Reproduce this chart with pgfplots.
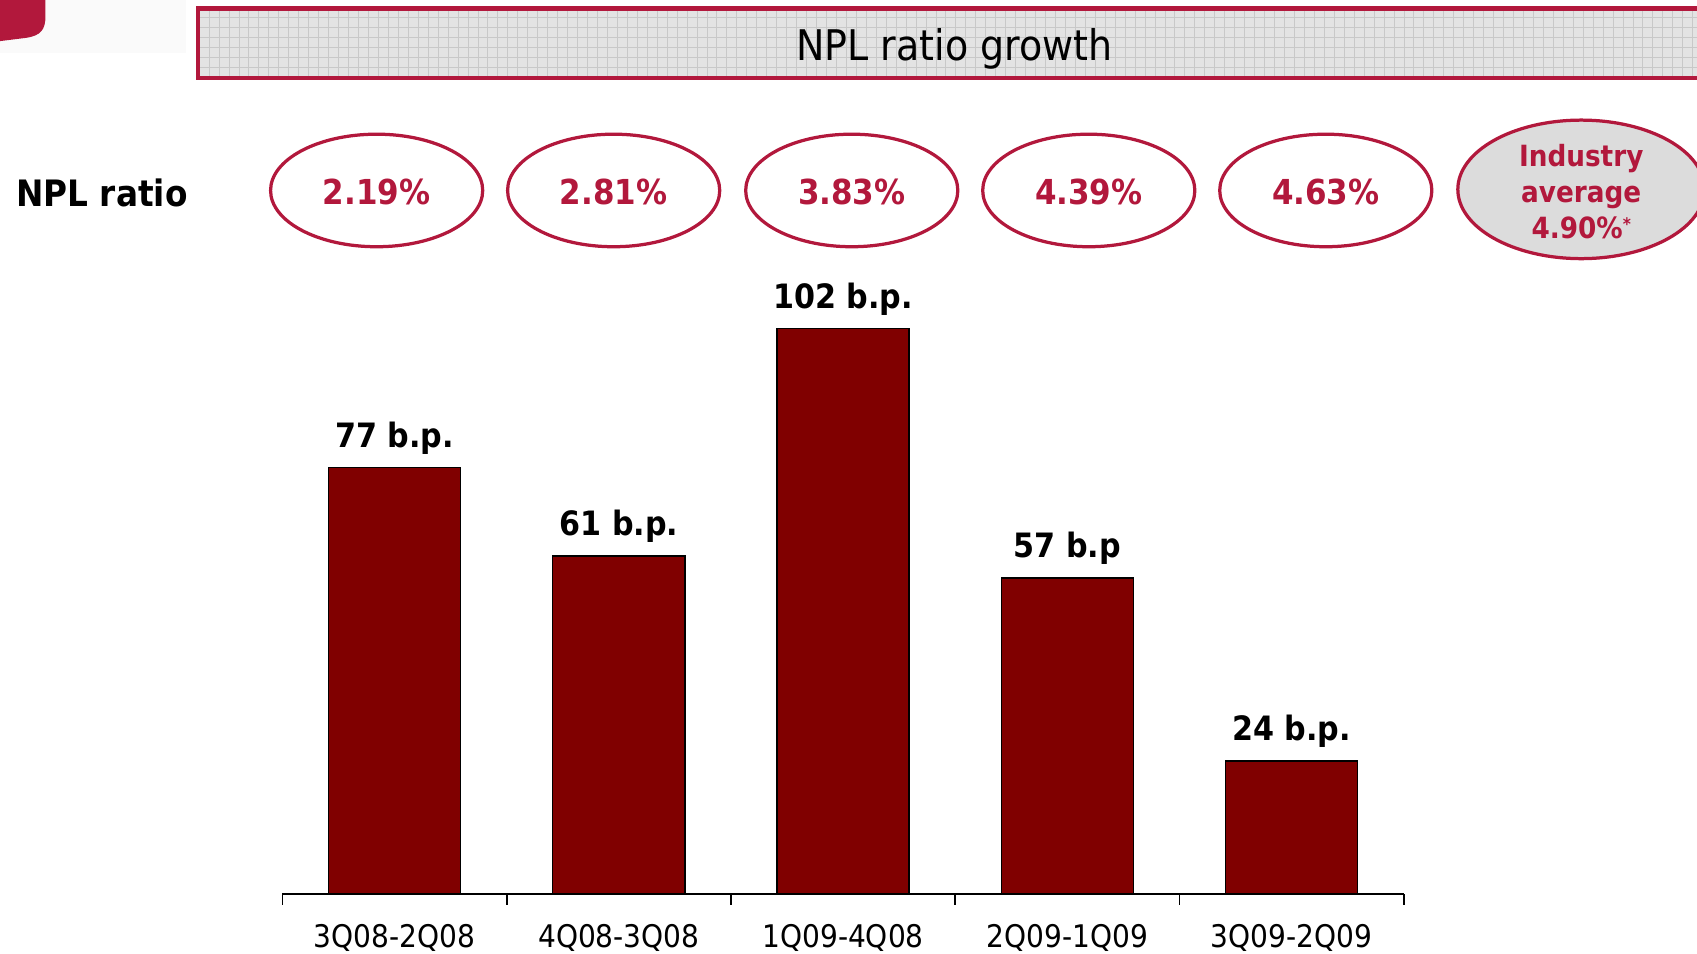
\documentclass[border=0pt]{standalone}
\usepackage{fontspec}
\setmainfont[FakeStretch=0.9]{DejaVu Sans}
\usepackage{pgfplots}
\pgfplotsset{compat=1.18}
\definecolor{nplred}{RGB}{178,24,60}
\definecolor{barred}{RGB}{128,0,0}
\definecolor{bannergray}{RGB}{227,227,227}
\definecolor{gridgray}{RGB}{200,200,200}
\definecolor{ovalgray}{RGB}{220,220,220}

\begin{document}
\begin{tikzpicture}
\useasboundingbox (0,0) rectangle (784pt,440.5pt);
\clip (0,0) rectangle (784pt,440.5pt);

\begin{scope}[x=0.5pt,y=0.5pt]
  % corner decoration
  \fill[black!2] (0,832) rectangle (172,881);
  \fill[nplred] (0,881) -- (42,881) -- (42,866) .. controls (42,854) and (38,848) .. (24,846) -- (0,843) -- cycle;

  % title banner
  \begin{scope}
    \clip (183,809) rectangle (1600,873);
    \fill[bannergray] (183,809) rectangle (1600,873);
    \draw[gridgray, line width=0.4pt, step=9.2] (183,809) grid (1600,873);
  \end{scope}
  \draw[nplred, line width=2pt] (1600,873) -- (183,873) -- (183,809) -- (1600,809);
  \node[font=\fontsize{19.5}{23}\selectfont] at (882,836) {NPL ratio growth};

  % NPL ratio row
  \node[anchor=west, font=\fontsize{16.8}{20}\selectfont\bfseries] at (8,703) {NPL ratio};
  \foreach \cx/\val in {348/2.19\%, 567/2.81\%, 787/3.83\%, 1006/4.39\%, 1225/4.63\%} {
    \draw[nplred, line width=1.5pt] (\cx,705) ellipse [x radius=98, y radius=52];
    \node[text=nplred, font=\fontsize{15.9}{19}\selectfont\bfseries] at (\cx,704) {\val};
  }
  \draw[nplred, line width=1.5pt, fill=ovalgray] (1461,706) ellipse [x radius=114, y radius=64];
  \node[text=nplred, font=\fontsize{13.5}{16.5}\selectfont\bfseries, align=center] at (1461,704)
    {Industry\\average\\4.90\%\raisebox{0.5ex}{\fontsize{8}{8}\selectfont*}};
\end{scope}

\begin{axis}[
  at={(130.5pt,27.5pt)}, anchor=south west,
  scale only axis, width=518pt, height=307.2pt,
  xmin=0.5, xmax=5.5, ymin=0, ymax=120,
  axis x line=bottom, axis y line=none,
  axis line style={black, line width=0.8pt, -},
  xtick={1,2,3,4,5},
  xticklabels={3Q08-2Q08, 4Q08-3Q08, 1Q09-4Q08, 2Q09-1Q09, 3Q09-2Q09},
  minor xtick={0.5,1.5,2.5,3.5,4.5,5.5},
  major tick length=0pt, minor tick length=5pt, tick align=outside,
  minor tick style={black, line width=0.8pt},
  xticklabel style={font=\fontsize{14.4}{17}\selectfont, yshift=-10.5pt},
  ybar, bar width=61pt,
  nodes near coords, point meta=explicit symbolic,
  nodes near coords style={font=\fontsize{15.5}{18}\selectfont\bfseries, text=black, yshift=2.5pt},
  clip=false,
]
\addplot[fill=barred, draw=black, line width=0.6pt] coordinates {
  (1,77) [77 b.p.]
  (2,61) [61 b.p.]
  (3,102) [102 b.p.]
  (4,57) [57 b.p]
  (5,24) [24 b.p.]
};
\end{axis}
\end{tikzpicture}
\end{document}
